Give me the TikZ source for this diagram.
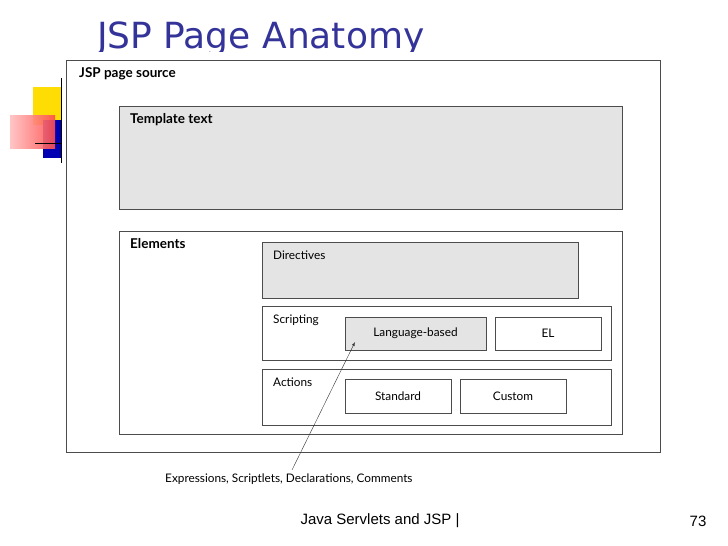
\documentclass[tikz,border=0pt]{standalone}
\usepackage{fontspec}
\setmainfont{Lato}
\newfontfamily\titlefont{DejaVu Sans}
\newfontfamily\footfont{Liberation Sans}
\usetikzlibrary{positioning}
\definecolor{titleblue}{RGB}{51,51,153}
\definecolor{boxgray}{RGB}{228,228,228}
\tikzset{
  box/.style={draw=black!70, line width=0.7pt},
  graybox/.style={box, fill=boxgray},
  lbl/.style={anchor=north west, inner sep=0pt, font=\fontsize{11.8}{13}\selectfont},
  hdr/.style={lbl, font=\bfseries\fontsize{13.5}{15}\selectfont},
  ctr/.style={font=\fontsize{11.8}{13}\selectfont}
}
\begin{document}
\begin{tikzpicture}[x=1pt, y=-1pt]
  \useasboundingbox (0,0) rectangle (728,546);
  %decoration
    \fill[yellow!80!orange] (33,87) rectangle (62,125);
    \fill[blue!70!black] (43,120) rectangle (62,158);
    \shade[left color=red!25, right color=red!70, opacity=0.9] (10,115) rectangle (55,148);
    \draw[line width=1pt] (35,143) -- (62,143);
    \draw[line width=0.8pt] (61,78) -- (61,163);
  %title, cut off at the bottom
    \begin{scope}
      \clip (0,0) rectangle (728,51);
      \node[anchor=base west, inner sep=0pt, text=titleblue, font=\titlefont\fontsize{36}{40}\selectfont] (title) at (97,48) {JSP Page Anatomy};
    \end{scope}
  %boxes
    \draw[box] (66,60) rectangle (660,452);
    \node[hdr] (src) at (79,67) {JSP page source};
    \draw[graybox] (119,106) rectangle (622,209);
    \node[hdr] (tpl) at (130,113) {Template text};
    \draw[box] (119,231) rectangle (622,434);
    \node[hdr] (elem) at (130,238) {Elements};
    \draw[graybox] (262,242) rectangle (578,298);
    \node[lbl] (dir) at (273,251) {Directives};
    \draw[box] (262,306) rectangle (611,360);
    \node[lbl] (scr) at (273,315) {Scripting};
    \draw[graybox] (345,317) rectangle (486,350);
    \node[ctr] (lang) at (415.5,333.5) {Language-based};
    \draw[box] (495,317) rectangle (601,350);
    \node[ctr] (el) at (548,333.5) {EL};
    \draw[box] (262,369) rectangle (611,425);
    \node[lbl] (act) at (273,378) {Actions};
    \draw[box] (345,379) rectangle (451,413);
    \node[ctr] (std) at (398,396) {Standard};
    \draw[box] (460,379) rectangle (566,413);
    \node[ctr] (cus) at (513,396) {Custom};
  %caption and arrow
    \node[anchor=west, ctr, inner sep=0pt] (cap) at (165,479) {Expressions, Scriptlets, Declarations, Comments};
    \coordinate (tip) at (355,342);
    \draw[-latex, black!80] (292,470) -- (tip);
  %footer
    \node[font=\footfont\fontsize{15}{17}\selectfont] (foot) at (380,521) {Java Servlets and JSP |};
    \node[font=\footfont\fontsize{15}{17}\selectfont] (num) at (698,521) {73};
\end{tikzpicture}
\end{document}
